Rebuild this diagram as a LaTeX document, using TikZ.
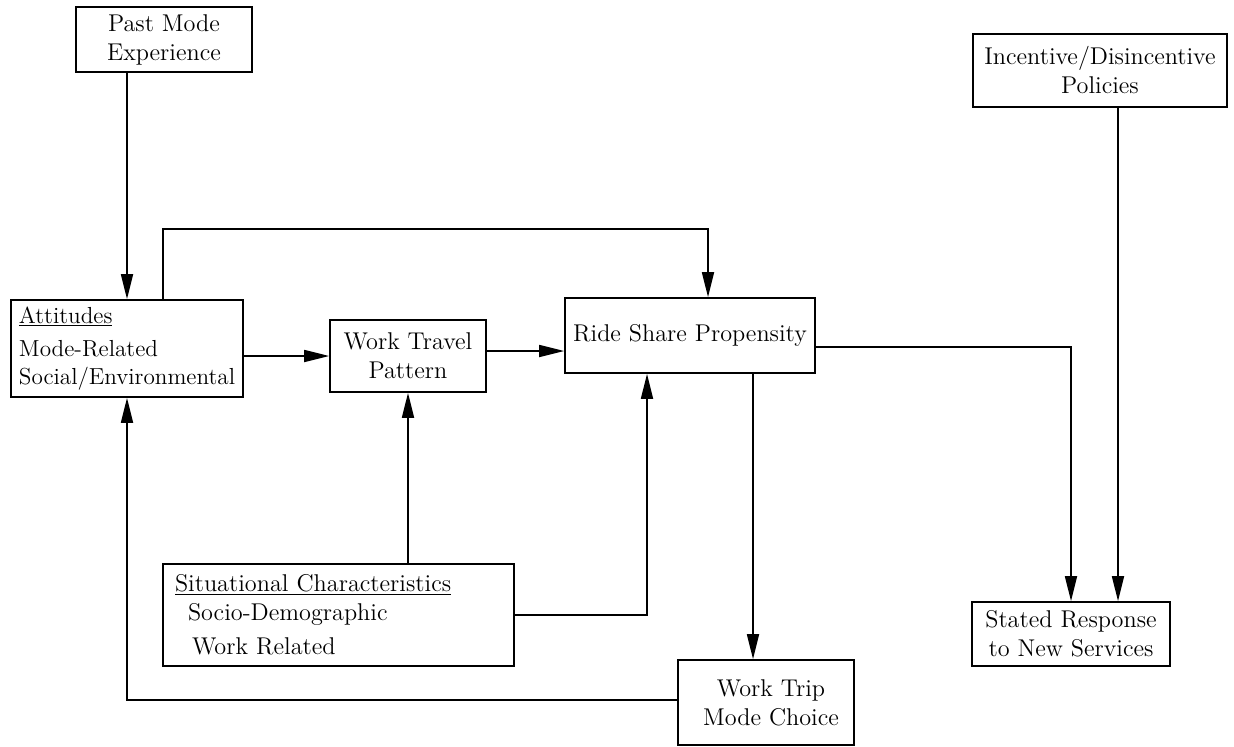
\documentclass[tikz,border=0pt]{standalone}
\usepackage{tikz}
\usetikzlibrary{arrows.meta}
\usetikzlibrary{positioning,shapes}

\begin{document}
\begin{tikzpicture}[x=0.02cm, y=-0.02cm, line width=1pt,
		box/.style = {draw, rectangle, inner sep=0pt, align=center, font=\fontsize{13.8}{16.5}\selectfont},
		arr/.style = {-{Triangle[length=0.5cm, width=0.24cm]}}]
		\useasboundingbox (0,0) rectangle (1234,747);
		\node[box, minimum width=3.52cm, minimum height=1.3cm] (past) at (164,39.5) {Past Mode\\Experience};
		\node[box, minimum width=4.64cm, minimum height=1.94cm, align=left, font=\fontsize{13.2}{16}\selectfont] (att) at (127,348.5) {\underline{Attitudes}\\[3pt] Mode-Related\\Social/Environmental};
		\node[box, minimum width=3.12cm, minimum height=1.44cm] (wtp) at (408,356) {Work Travel\\Pattern};
		\node[box, minimum width=5cm, minimum height=1.5cm] (rsp) at (690,335.5) {Ride Share Propensity};
		\node[box, minimum width=7.02cm, minimum height=2.04cm, inner xsep=0.24cm, text width=6.54cm, align=left] (sit) at (338.5,615) {\underline{Situational Characteristics}\\ \hspace*{0.26cm}Socio-Demographic\\[3pt] \hspace*{0.34cm}Work Related};
		\node[box, minimum width=3.52cm, minimum height=1.7cm] (wtm) at (766,702.5) {\hspace*{0.2cm}Work Trip\\\hspace*{0.2cm}Mode Choice};
		\node[box, minimum width=5.08cm, minimum height=1.46cm] (inc) at (1100,70.5) {Incentive/Disincentive\\Policies};
		\node[box, minimum width=3.96cm, minimum height=1.28cm] (srs) at (1071,634) {Stated Response\\to New Services};
		\coordinate (ttop) at (708,229);
		\coordinate (rspdn) at (753,373);
		\coordinate (incdn) at (1118,107);
		\draw[arr] (att.north |- past.south) -- (att.north);
		\draw[arr] ([xshift=0.72cm]att.north) |- (ttop) -- (ttop |- rsp.north);
		\draw[arr] (att.east |- wtp.west) -- (wtp.west);
		\draw[arr] ([yshift=0.1cm]wtp.east) -- ([yshift=0.1cm]wtp.east -| rsp.west);
		\draw[arr] (wtp.south |- sit.north) -- (wtp.south);
		\draw[arr] (sit.east) -| ([xshift=-0.86cm]rsp.south);
		\draw[arr] (rspdn) -- (rspdn |- wtm.north);
		\draw[arr] ([yshift=0.05cm]wtm.west) -| (att.south);
		\draw[arr] ([yshift=-0.23cm]rsp.east) -| (srs.north);
		\draw[arr] (incdn) -- (incdn |- srs.north);
	\end{tikzpicture}
\end{document}
